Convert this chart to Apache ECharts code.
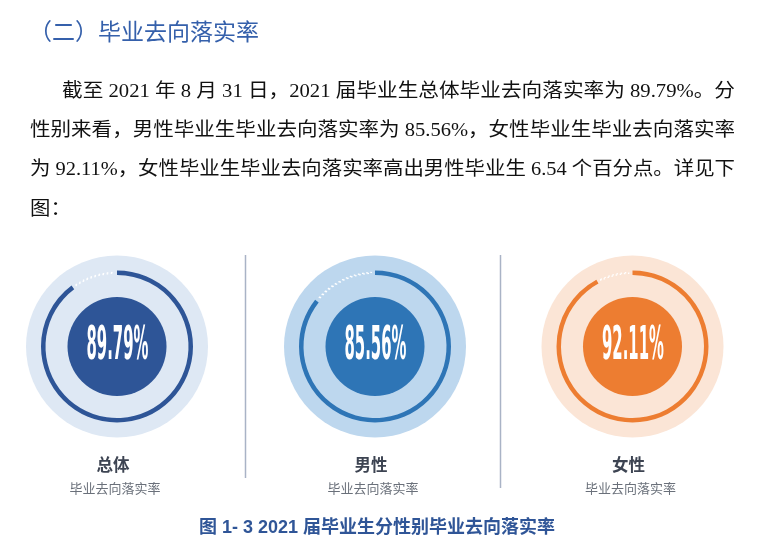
<!DOCTYPE html>
<html>
<head>
<meta charset="utf-8">
<script src="https://cdn.jsdelivr.net/npm/echarts@6/dist/echarts.min.js"></script>
<style>
html,body{margin:0;padding:0;background:#fff;}
#chart{width:780px;height:551px;}
</style>
</head>
<body>
<div id="chart"></div>
<script>
// ---- data ----
const categories = ['总体', '男性', '女性'];
const rates = [89.79, 85.56, 92.11];
const subLabel = '毕业去向落实率';
const heading = '（二）毕业去向落实率';
const paragraphLines = [
  '截至 2021 年 8 月 31 日，2021 届毕业生总体毕业去向落实率为 89.79%。分',
  '性别来看，男性毕业生毕业去向落实率为 85.56%，女性毕业生毕业去向落实率',
  '为 92.11%，女性毕业生毕业去向落实率高出男性毕业生 6.54 个百分点。详见下',
  '图：'
];
const caption = '图 1- 3 2021 届毕业生分性别毕业去向落实率';

// ---- styles / layout ----
const mainColors = ['#2e5597', '#2e75b6', '#ed7d31'];
const bgColors = ['#dee8f4', '#bdd7ee', '#fbe5d6'];
const centersX = [117, 375, 632.5];
const centerY = 346.5;

const measureCanvas = document.createElement('canvas').getContext('2d');
function textWidth(str, font) { measureCanvas.font = font; return measureCanvas.measureText(str).width; }

const series = [];
const graphics = [];
const none = 'rgba(0,0,0,0)';
const gapPct = 0.8; // small gap between solid arc ends and the dotted arc

categories.forEach((name, i) => {
  const v = rates[i];
  const rest = +(100 - v).toFixed(2);
  const c = [centersX[i], centerY];
  series.push({
    type: 'pie', silent: true, animation: false, center: c, radius: [0, 91],
    label: { show: false }, labelLine: { show: false },
    data: [{ name: name + '背景', value: 100, itemStyle: { color: bgColors[i] } }]
  });
  series.push({
    type: 'pie', silent: true, animation: false, center: c, radius: [71.5, 76],
    startAngle: 90, clockwise: true,
    label: { show: false }, labelLine: { show: false },
    data: [
      { name: name, value: v, itemStyle: { color: mainColors[i] } },
      { name: name + '未落实', value: rest, itemStyle: { color: none } }
    ]
  });
  // dotted remainder arc
  series.push({
    type: 'pie', silent: true, animation: false, center: c, radius: [73.3, 74.2],
    startAngle: 90, clockwise: true,
    label: { show: false }, labelLine: { show: false },
    data: [
      { name: name + '落实', value: v + gapPct, itemStyle: { color: none, borderWidth: 0 } },
      { name: name + '未落实虚线', value: rest - 2 * gapPct,
        itemStyle: { color: none, borderColor: '#ffffff', borderWidth: 1.3, borderType: [1.6, 2.6] } },
      { name: name + '间隙', value: gapPct, itemStyle: { color: none, borderWidth: 0 } }
    ]
  });
  series.push({
    type: 'pie', silent: true, animation: false, center: c, radius: [0, 49.5],
    label: { show: false }, labelLine: { show: false },
    data: [{ name: name + '中心', value: v, itemStyle: { color: mainColors[i] } }]
  });

  // percentage label inside the circle (condensed bold)
  const pctText = v.toFixed(2) + '%';
  const pctFont = 'bold 46px "DejaVu Sans", "Liberation Sans", Arial, sans-serif';
  const pw = textWidth(pctText, pctFont);
  graphics.push({
    type: 'text', x: c[0] + 0.5, y: c[1] + 1, scaleX: 62 / pw, z: 100, silent: true,
    style: { text: pctText, x: 0, y: 0, align: 'center', verticalAlign: 'middle',
      font: pctFont, fill: '#ffffff' }
  });
  graphics.push({
    type: 'text', x: c[0] - 4, y: 465, z: 100, silent: true,
    style: { text: name, x: 0, y: 0, align: 'center', verticalAlign: 'middle',
      font: 'bold 16.5px "Noto Sans CJK SC", sans-serif', fill: '#3d4452' }
  });
  graphics.push({
    type: 'text', x: c[0] - 2, y: 488.5, z: 100, silent: true,
    style: { text: subLabel, x: 0, y: 0, align: 'center', verticalAlign: 'middle',
      font: '13px "Noto Sans CJK SC", sans-serif', fill: '#6a707a' }
  });
});

// separators
graphics.push({ type: 'line', silent: true, shape: { x1: 245.5, y1: 255, x2: 245.5, y2: 478 }, style: { stroke: '#a9b3c6', lineWidth: 1.5 } });
graphics.push({ type: 'line', silent: true, shape: { x1: 500.5, y1: 255, x2: 500.5, y2: 488 }, style: { stroke: '#a9b3c6', lineWidth: 1.5 } });

// heading
graphics.push({
  type: 'text', x: 29, y: 31, silent: true,
  style: { text: heading, x: 0, y: 0, align: 'left', verticalAlign: 'middle',
    font: '23px "Noto Sans CJK SC", sans-serif', fill: '#3560ab' }
});

// paragraph (justified lines)
const pFont = '19px "Liberation Serif", "Noto Sans CJK SC", serif';
const lineStarts = [62, 30, 30, 30];
const lineEnd = 735;
const lineYs = [92, 131, 170, 210];
let lastScale = 1;
paragraphLines.forEach((t, k) => {
  let s;
  if (k < paragraphLines.length - 1) {
    s = (lineEnd - lineStarts[k]) / textWidth(t, pFont);
    lastScale = s;
  } else s = lastScale;
  graphics.push({
    type: 'text', x: lineStarts[k], y: lineYs[k], scaleX: s, silent: true,
    style: { text: t, x: 0, y: 0, align: 'left', verticalAlign: 'middle', font: pFont, fill: '#111111' }
  });
});

// caption
graphics.push({
  type: 'text', x: 377, y: 528, silent: true,
  style: { text: caption, x: 0, y: 0, align: 'center', verticalAlign: 'middle',
    font: 'bold 18px "Liberation Sans", "Noto Sans CJK SC", sans-serif', fill: '#2f5597' }
});

const chart = echarts.init(document.getElementById('chart'));
chart.setOption({
  backgroundColor: '#ffffff',
  animation: false,
  series: series,
  graphic: { elements: graphics }
});
</script>
</body>
</html>
